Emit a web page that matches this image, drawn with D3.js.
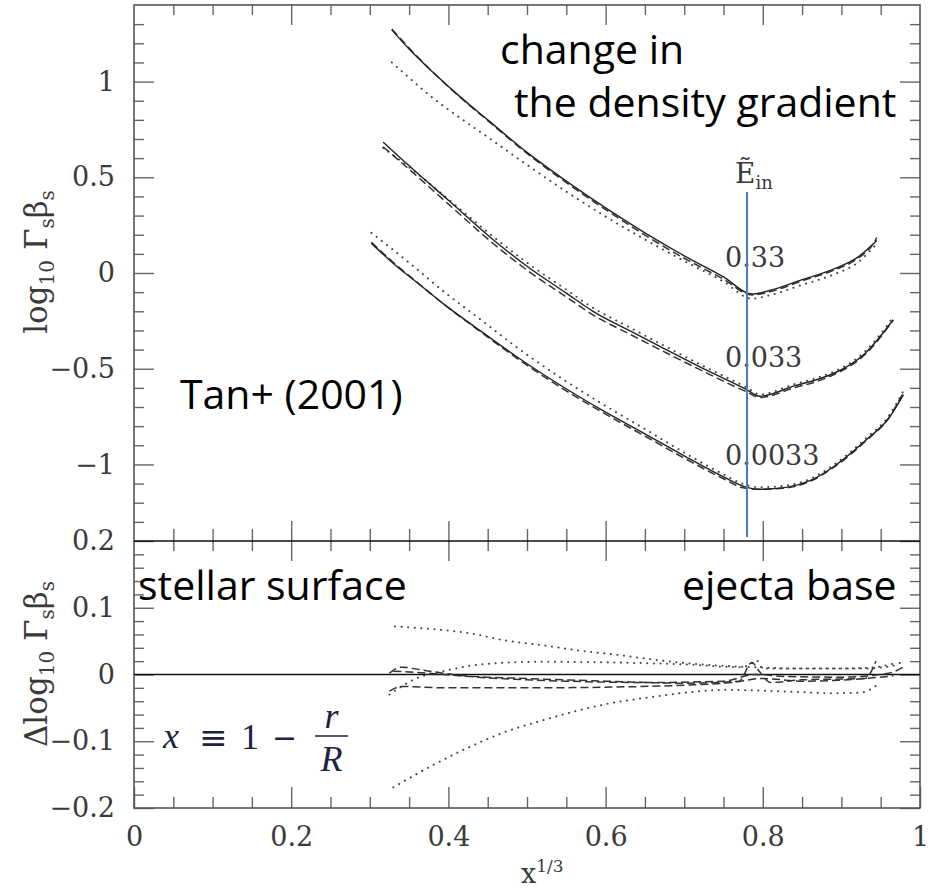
<html>
<head>
<script src="https://d3js.org/d3.v7.min.js"></script>
<style>
  body { margin: 0; background: #fff; }
  svg { display: block; }
  .tick text { font-family: "DejaVu Serif", serif; font-size: 27px; fill: #3a3a3a; }
  .note { font-family: "Open Sans", Lato, sans-serif; font-size: 41px; fill: #000; }
  .serif { font-family: "DejaVu Serif", serif; fill: #3a3a3a; }
  .math { font-family: "Liberation Serif", serif; fill: #1c2340; }
</style>
</head>
<body>
<svg id="chart" width="932" height="891"></svg>
<script>
// ---- top panel: log10 Gamma_s beta_s vs x^(1/3), one group per E_in ----
// E_in = 0.33
const solidA = [[0.328,1.27],[0.35,1.17],[0.38,1.05],[0.415,0.92],[0.45,0.80],[0.5,0.63],[0.55,0.48],[0.6,0.34],[0.65,0.21],[0.7,0.09],[0.75,-0.02],[0.786,-0.11],[0.81,-0.09],[0.85,-0.035],[0.89,0.02],[0.92,0.08],[0.945,0.17]];
const dashA  = [[0.328,1.275],[0.35,1.175],[0.38,1.05],[0.415,0.918],[0.45,0.796],[0.5,0.625],[0.55,0.472],[0.6,0.331],[0.65,0.198],[0.7,0.077],[0.75,-0.032],[0.786,-0.115],[0.81,-0.097],[0.85,-0.041],[0.89,0.014],[0.92,0.074],[0.94,0.15],[0.945,0.185]];
const dotA   = [[0.328,1.10],[0.35,1.02],[0.38,0.915],[0.415,0.81],[0.45,0.71],[0.5,0.565],[0.55,0.425],[0.6,0.295],[0.65,0.175],[0.7,0.063],[0.75,-0.045],[0.786,-0.134],[0.81,-0.115],[0.85,-0.062],[0.89,-0.008],[0.92,0.052],[0.945,0.153]];
// E_in = 0.033
const solidB = [[0.317,0.684],[0.35,0.56],[0.4,0.38],[0.457,0.174],[0.5,0.035],[0.55,-0.105],[0.584,-0.2],[0.63,-0.30],[0.669,-0.383],[0.72,-0.49],[0.7795,-0.609],[0.796,-0.644],[0.84,-0.59],[0.87,-0.555],[0.89,-0.525],[0.93,-0.42],[0.966,-0.244]];
const dashB  = [[0.317,0.659],[0.35,0.542],[0.4,0.36],[0.457,0.154],[0.5,0.015],[0.55,-0.125],[0.584,-0.219],[0.63,-0.318],[0.669,-0.4],[0.72,-0.505],[0.7795,-0.621],[0.796,-0.65],[0.84,-0.6],[0.87,-0.565],[0.89,-0.532],[0.93,-0.426],[0.966,-0.246]];
const dotB   = [[0.317,0.654],[0.35,0.553],[0.4,0.385],[0.457,0.19],[0.5,0.054],[0.55,-0.087],[0.584,-0.182],[0.63,-0.283],[0.669,-0.368],[0.72,-0.477],[0.7795,-0.598],[0.796,-0.634],[0.84,-0.581],[0.87,-0.546],[0.89,-0.516],[0.93,-0.41],[0.966,-0.23]];
// E_in = 0.0033
const solidC = [[0.302,0.155],[0.33,0.05],[0.36,-0.05],[0.395,-0.165],[0.44,-0.30],[0.486,-0.435],[0.542,-0.585],[0.595,-0.715],[0.65,-0.84],[0.70,-0.955],[0.75,-1.065],[0.775,-1.113],[0.796,-1.13],[0.83,-1.12],[0.86,-1.085],[0.89,-1.012],[0.932,-0.87],[0.96,-0.76],[0.979,-0.635]];
const dashC  = [[0.302,0.16],[0.33,0.055],[0.36,-0.048],[0.395,-0.166],[0.44,-0.304],[0.486,-0.442],[0.542,-0.595],[0.595,-0.726],[0.65,-0.852],[0.70,-0.967],[0.75,-1.075],[0.775,-1.122],[0.796,-1.13],[0.83,-1.123],[0.86,-1.089],[0.89,-1.016],[0.932,-0.874],[0.96,-0.758],[0.979,-0.623]];
const dotC   = [[0.302,0.21],[0.33,0.12],[0.36,0.02],[0.395,-0.10],[0.44,-0.24],[0.486,-0.385],[0.542,-0.545],[0.595,-0.682],[0.65,-0.815],[0.70,-0.938],[0.75,-1.052],[0.775,-1.102],[0.796,-1.119],[0.83,-1.11],[0.86,-1.076],[0.89,-1.003],[0.932,-0.861],[0.96,-0.748],[0.979,-0.615]];

// ---- bottom panel: differences to the solid curves ----
const diffDotA  = [[0.330,-0.169],[0.380,-0.136],[0.426,-0.109],[0.4725,-0.086],[0.519,-0.069],[0.565,-0.054],[0.611,-0.042],[0.657,-0.034],[0.703,-0.027],[0.75,-0.023],[0.796,-0.024],[0.842,-0.026],[0.888,-0.028],[0.925,-0.027],[0.944,-0.017]];
const diffDotB  = [[0.325,-0.030],[0.357,-0.007],[0.394,0.005],[0.449,0.016],[0.519,0.019],[0.611,0.018],[0.703,0.015],[0.773,0.011],[0.786,0.017],[0.792,0.021],[0.80,0.009],[0.888,0.009],[0.934,0.010],[0.966,0.016]];
const diffDotC  = [[0.332,0.072],[0.38,0.068],[0.426,0.062],[0.4725,0.051],[0.519,0.044],[0.565,0.036],[0.611,0.030],[0.657,0.023],[0.703,0.017],[0.75,0.013],[0.791,0.011],[0.842,0.009],[0.925,0.009],[0.962,0.012],[0.981,0.022]];
const diffDashA = [[0.325,0.002],[0.34,0.011],[0.37,0.006],[0.42,-0.002],[0.5,-0.006],[0.6,-0.01],[0.7,-0.013],[0.77,-0.01],[0.786,0.018],[0.796,0.004],[0.81,-0.012],[0.85,-0.008],[0.93,-0.006],[0.944,0.02]];
const diffDashB = [[0.325,-0.025],[0.34,-0.018],[0.4,-0.02],[0.5,-0.02],[0.6,-0.019],[0.7,-0.016],[0.76,-0.012],[0.8,-0.006],[0.85,-0.01],[0.93,-0.006],[0.966,-0.002]];
const diffDashC = [[0.33,0.005],[0.36,0.003],[0.45,-0.005],[0.55,-0.01],[0.65,-0.012],[0.75,-0.01],[0.79,0.0],[0.83,-0.003],[0.9,-0.004],[0.96,0.002],[0.98,0.012]];

// tick values
const xMajor = [0, 0.2, 0.4, 0.6, 0.8, 1];
const xMinor = [0.05,0.1,0.15,0.25,0.3,0.35,0.45,0.5,0.55,0.65,0.7,0.75,0.85,0.9,0.95];
const topMajor = [-1, -0.5, 0, 0.5, 1];
const topMinor = [-1.3,-1.2,-1.1,-0.9,-0.8,-0.7,-0.6,-0.4,-0.3,-0.2,-0.1,0.1,0.2,0.3,0.4,0.6,0.7,0.8,0.9,1.1,1.2,1.3];
const botMajor = [-0.2, -0.1, 0, 0.1, 0.2];
const botMinor = [-0.18,-0.16,-0.14,-0.12,-0.08,-0.06,-0.04,-0.02,0.02,0.04,0.06,0.08,0.12,0.14,0.16,0.18];
const curveLabels = ["0.33", "0.033", "0.0033"];
const curveLabelY = [0, -0.52, -1.035];

const svg = d3.select("#chart");

const padL = 134, padR = 920, padT = 5, midY = 541, padB = 808;
const x = d3.scaleLinear().domain([0, 1]).range([padL, padR]);
const yTop = d3.scaleLinear().domain([-1.4, 1.4]).range([midY, padT]);
const yBot = d3.scaleLinear().domain([-0.2, 0.2]).range([padB, midY]);

const fmt = d => String(+d.toFixed(2)).replace("-", "\u2212");

// draws inward ticks for one side of a panel
function ticks(axisFn, scale, vals, len, labels, tx, ty) {
  const a = axisFn(scale).tickValues(vals).tickSize(-len).tickPadding(labels ? 19 : 0);
  a.tickFormat(labels ? fmt : "");
  const g = svg.append("g").attr("transform", `translate(${tx},${ty})`).call(a);
  g.select(".domain").remove();
  g.selectAll(".tick line").attr("stroke", "#666").attr("stroke-width", 1.4);
  return g;
}

// top panel ticks
ticks(d3.axisLeft, yTop, topMinor, 10, false, padL, 0);
ticks(d3.axisLeft, yTop, topMajor, 20, true, padL, 0);
ticks(d3.axisRight, yTop, topMinor, 10, false, padR, 0);
ticks(d3.axisRight, yTop, topMajor, 20, false, padR, 0);
ticks(d3.axisTop, x, xMinor, 10, false, 0, padT);
ticks(d3.axisTop, x, xMajor.slice(1, -1), 20, false, 0, padT);
ticks(d3.axisBottom, x, xMinor, 12, false, 0, midY);
ticks(d3.axisBottom, x, xMajor.slice(1, -1), 20, false, 0, midY);

// bottom panel ticks
ticks(d3.axisLeft, yBot, botMinor, 10, false, padL, 0);
ticks(d3.axisLeft, yBot, botMajor, 20, true, padL, 0);
ticks(d3.axisRight, yBot, botMinor, 10, false, padR, 0);
ticks(d3.axisRight, yBot, botMajor, 20, false, padR, 0);
ticks(d3.axisTop, x, xMinor, 10, false, 0, midY);
ticks(d3.axisTop, x, xMajor.slice(1, -1), 20, false, 0, midY);
ticks(d3.axisBottom, x, xMinor, 11, false, 0, padB);
ticks(d3.axisBottom, x, xMajor, 21, true, 0, padB);

// frames
svg.append("rect").attr("x", padL).attr("y", padT).attr("width", padR - padL).attr("height", padB - padT)
  .attr("fill", "none").attr("stroke", "#555").attr("stroke-width", 1.6);
svg.append("line").attr("x1", padL).attr("x2", padR).attr("y1", midY).attr("y2", midY)
  .attr("stroke", "#111").attr("stroke-width", 1.6);
svg.append("line").attr("x1", padL).attr("x2", padR).attr("y1", yBot(0)).attr("y2", yBot(0))
  .attr("stroke", "#111").attr("stroke-width", 1.5);

// curves
const lineTop = d3.line().x(d => x(d[0])).y(d => yTop(d[1])).curve(d3.curveMonotoneX);
const lineBot = d3.line().x(d => x(d[0])).y(d => yBot(d[1])).curve(d3.curveMonotoneX);

const styles = {
  solid: { dash: null, w: 1.4, c: "#222", cap: "butt" },
  dash:  { dash: "8,4", w: 1.5, c: "#333", cap: "butt" },
  dot:   { dash: "0.1,6.5", w: 2, c: "#444", cap: "round" }
};
function draw(data, gen, st) {
  const s = styles[st];
  svg.append("path").datum(data).attr("d", gen)
    .attr("fill", "none").attr("stroke", s.c).attr("stroke-width", s.w)
    .attr("stroke-dasharray", s.dash).attr("stroke-linecap", s.cap);
}
[[dotA, "dot"], [dashA, "dash"], [solidA, "solid"],
 [dotB, "dot"], [dashB, "dash"], [solidB, "solid"],
 [dotC, "dot"], [dashC, "dash"], [solidC, "solid"]].forEach(([d, s]) => draw(d, lineTop, s));
[[diffDotA, "dot"], [diffDotB, "dot"], [diffDotC, "dot"],
 [diffDashA, "dash"], [diffDashB, "dash"], [diffDashC, "dash"]].forEach(([d, s]) => draw(d, lineBot, s));

// E_in labels next to the minima
curveLabels.forEach((t, i) => {
  svg.append("text").attr("class", "serif").attr("font-size", 27)
    .attr("x", 725).attr("y", yTop(curveLabelY[i]) - 6).text(t);
});
const eLab = svg.append("text").attr("class", "serif").attr("font-size", 28).attr("x", 735).attr("y", 183);
eLab.append("tspan").text("\u1EBC");
eLab.append("tspan").attr("font-size", 18).attr("dy", 6).text("in");

// blue marker line
svg.append("line").attr("x1", 747).attr("x2", 747).attr("y1", 192).attr("y2", 537)
  .attr("stroke", "#4a7ebb").attr("stroke-width", 2);

// axis titles
function yTitle(cx, cy, head) {
  const t = svg.append("text").attr("class", "serif").attr("font-size", 31)
    .attr("transform", `translate(${cx},${cy}) rotate(-90)`).attr("text-anchor", "middle");
  t.append("tspan").text(head);
  t.append("tspan").attr("font-size", 20).attr("dy", 7).text("10");
  t.append("tspan").attr("dy", -7).text(" \u0393");
  t.append("tspan").attr("font-size", 20).attr("dy", 7).text("s");
  t.append("tspan").attr("dy", -7).text("\u03B2");
  t.append("tspan").attr("font-size", 20).attr("dy", 7).text("s");
}
yTitle(47, 262, "log");
yTitle(47, 664, "\u0394log");

const xl = svg.append("text").attr("class", "serif").attr("font-size", 27).attr("x", 521).attr("y", 883);
xl.append("tspan").text("x");
xl.append("tspan").attr("font-size", 17).attr("dy", -11).text("1/3");

// annotations
svg.append("text").attr("class", "note").attr("x", 500).attr("y", 64).text("change in");
svg.append("text").attr("class", "note").attr("x", 514).attr("y", 117).text("the density gradient");
svg.append("text").attr("class", "note").attr("x", 180).attr("y", 409).text("Tan+ (2001)");
svg.append("text").attr("class", "note").attr("x", 138).attr("y", 600).text("stellar surface");
svg.append("text").attr("class", "note").attr("x", 682).attr("y", 600).text("ejecta base");

// x = 1 - r/R
svg.append("text").attr("class", "math").style("font-style", "italic").attr("font-size", 36).attr("x", 163).attr("y", 748).text("x");
svg.append("text").attr("class", "math").style("font-family", "'DejaVu Serif', serif").attr("font-size", 34).attr("x", 199).attr("y", 749).text("\u2261");
svg.append("text").attr("class", "math").attr("font-size", 36).attr("x", 241).attr("y", 749).text("1");
svg.append("text").attr("class", "math").style("font-family", "'DejaVu Serif', serif").attr("font-size", 30).attr("x", 272).attr("y", 748).text("\u2212");
svg.append("line").attr("x1", 315).attr("x2", 348).attr("y1", 736).attr("y2", 736).attr("stroke", "#1c2340").attr("stroke-width", 1.6);
svg.append("text").attr("class", "math").style("font-style", "italic").attr("font-size", 36).attr("x", 331.5).attr("y", 728).attr("text-anchor", "middle").text("r");
svg.append("text").attr("class", "math").style("font-style", "italic").attr("font-size", 36).attr("x", 331.5).attr("y", 771).attr("text-anchor", "middle").text("R");
</script>
</body>
</html>
